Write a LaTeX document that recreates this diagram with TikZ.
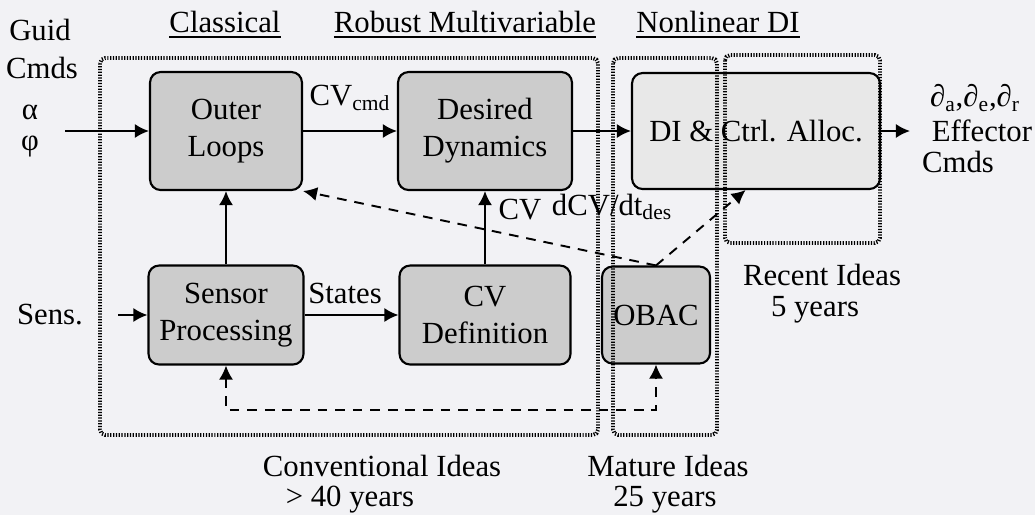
\documentclass[tikz,border=0pt]{standalone}
\usepackage{fontspec}
\setmainfont{Liberation Serif}
\usepackage{amsmath}
\usetikzlibrary{arrows.meta}
\definecolor{boxgray}{rgb}{0.80,0.80,0.80}
\definecolor{paleg}{rgb}{0.91,0.91,0.91}
\definecolor{paper}{rgb}{0.95,0.95,0.96}

\begin{document}
\begin{tikzpicture}
  [x=0.02cm,y=-0.02cm,>={Latex[length=8pt,width=8pt]},line width=1.1pt,
   every node/.style={font=\fontsize{17.5}{21}\selectfont},
   blk/.style={draw,line width=1.2pt,rounded corners=6pt,fill=boxgray,align=center,inner sep=0pt},
   zone/.style={draw,line width=2.2pt,dash pattern=on 0.7pt off 0.9pt,rounded corners=3pt},
   fb/.style={line width=1.1pt,dash pattern=on 5.5pt off 4.5pt}]

  \fill[paper] (0,0) rectangle (1035,515);
  \useasboundingbox (0,0) rectangle (1035,515);

  \node[blk,minimum width=3.04cm,minimum height=2.36cm] (n1) at (226,131) {Outer\\Loops};
  \node[blk,minimum width=3.48cm,minimum height=2.36cm] (n2) at (485,131) {Desired\\Dynamics};
  \node[blk,fill=paleg,minimum width=4.96cm,minimum height=2.32cm] (n3) at (756,131) {DI \& Ctrl. Alloc.};
  \node[blk,minimum width=3.10cm,minimum height=1.98cm] (n4) at (226,315) {Sensor\\Processing};
  \node[blk,minimum width=3.42cm,minimum height=1.98cm] (n5) at (485,315) {CV\\Definition};
  \node[blk,minimum width=2.16cm,minimum height=1.94cm] (n6) at (656,315) {OBAC};

  % groups of ideas
  \draw[zone] (100,58) rectangle (598,435);
  \draw[zone] (613,58) rectangle (717,435);
  \draw[zone] (725,55) rectangle (880,243);

  \node (h1) at (225,25) {\underline{Classical}};
  \node (h2) at (465,25) {\underline{Robust Multivariable}};
  \node (h3) at (718,25) {\underline{Nonlinear DI}};

  \node (guid) at (40,30) {Guid};
  \node (cmd1) at (42,68) {Cmds};
  \node (alf) at (30,112) {α};
  \node (phi) at (30,147) {φ};
  \node (sens) at (50,315) {Sens.};
  \node (dlt) at (975,98) {∂\textsubscript{a},∂\textsubscript{e},∂\textsubscript{r}};
  \node (eff) at (982,131) {Effector};
  \node (cmd2) at (958,162) {Cmds};

  \coordinate (gin) at (65,131);
  \coordinate (sin) at (118,315);
  \coordinate (out) at (910,131);
  \coordinate (fbl) at (226,410);

  \foreach \from/\to in {gin/n1,sin/n4,n1/n2,n2/n3,n3/out,n4/n1,n4/n5,n5/n2}
    \draw[->] (\from) -- (\to);

  \node (cvc) at (350,98) {CV\textsubscript{cmd}};
  \node (sts) at (345,293) {States};
  \node (cv) at (520,210) {CV};
  \node (dcv) at (612,207) {dCV/dt\textsubscript{des}};

  % OBAC feedback
  \draw[fb,<->] (n4.south) -- (fbl) -| (n6.south);
  \draw[fb,->] (n6.north) -- (n1.south east);
  \draw[fb,->] (n6.north) -- (n3.-100);

  \node (t1) at (382,466) {Conventional Ideas};
  \node (t2) at (350,500) {> 40 years};
  \node (t3) at (668,466) {Mature Ideas};
  \node (t4) at (665,500) {25 years};
  \node (t5) at (822,275) {Recent Ideas};
  \node (t6) at (815,310) {5 years};
\end{tikzpicture}
\end{document}
